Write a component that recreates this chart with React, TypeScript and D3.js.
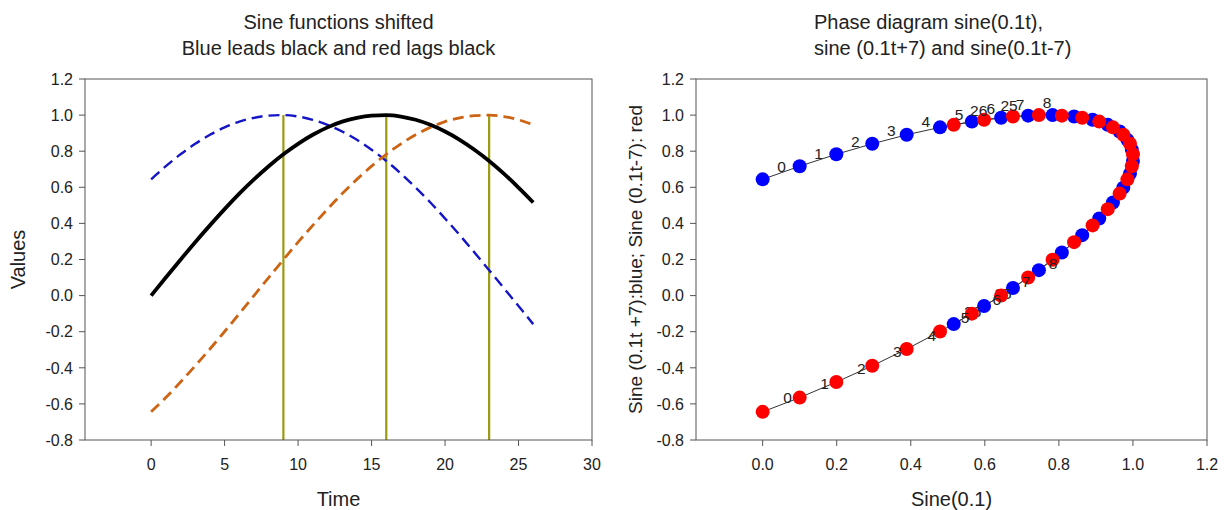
import React from "react";
import * as d3 from "d3";

// ---- data ----
const TIME = [0, 1, 2, 3, 4, 5, 6, 7, 8, 9, 10, 11, 12, 13, 14, 15, 16, 17, 18, 19, 20, 21, 22, 23, 24, 25, 26];
const SINE = [0.0, 0.1, 0.199, 0.296, 0.389, 0.479, 0.565, 0.644, 0.717, 0.783, 0.841, 0.891, 0.932, 0.964, 0.985, 0.997, 1.0, 0.992, 0.974, 0.946, 0.909, 0.863, 0.808, 0.746, 0.676, 0.598, 0.516];
const LEAD = [0.644, 0.717, 0.783, 0.841, 0.891, 0.932, 0.964, 0.985, 0.997, 1.0, 0.992, 0.974, 0.946, 0.909, 0.863, 0.808, 0.746, 0.676, 0.598, 0.516, 0.427, 0.335, 0.239, 0.141, 0.042, -0.058, -0.158];
const LAG = [-0.644, -0.565, -0.479, -0.389, -0.296, -0.199, -0.1, 0.0, 0.1, 0.199, 0.296, 0.389, 0.479, 0.565, 0.644, 0.717, 0.783, 0.841, 0.891, 0.932, 0.964, 0.985, 0.997, 1.0, 0.992, 0.974, 0.946];
const MARKERS = [9, 16, 23];
const LABELED = [0, 1, 2, 3, 4, 5, 6, 7, 8, 25, 26];
const Y_TICKS = [-0.8, -0.6, -0.4, -0.2, 0.0, 0.2, 0.4, 0.6, 0.8, 1.0, 1.2];
const TIME_TICKS = [0, 5, 10, 15, 20, 25, 30];
const PHASE_X_TICKS = [0.0, 0.2, 0.4, 0.6, 0.8, 1.0, 1.2];

const FONT = "'Liberation Sans', Arial, Helvetica, sans-serif";
const AXIS = "#555";
const TXT = "#222";

const top = 79, bottom = 440;

function YAxis({ x, y }: { x: number; y: any }) {
  return (
    <g>
      {Y_TICKS.map((t) => (
        <g key={t}>
          <line x1={x - 6} x2={x} y1={y(t)} y2={y(t)} stroke={AXIS} strokeWidth={1} />
          <text x={x - 12} y={y(t)} dy="0.36em" textAnchor="end" fontSize={16} fill={TXT} fontFamily={FONT}>
            {t.toFixed(1)}
          </text>
        </g>
      ))}
    </g>
  );
}

function XAxis({ x, ticks, fmt }: { x: any; ticks: number[]; fmt: (v: number) => string }) {
  return (
    <g>
      {ticks.map((t) => (
        <g key={t}>
          <line x1={x(t)} x2={x(t)} y1={bottom} y2={bottom + 6} stroke={AXIS} strokeWidth={1} />
          <text x={x(t)} y={464} dy="0.36em" textAnchor="middle" fontSize={16} fill={TXT} fontFamily={FONT}>
            {fmt(t)}
          </text>
        </g>
      ))}
    </g>
  );
}

export default function App() {
  // left chart
  const xL = d3.scaleLinear().domain([-4.5, 30]).range([85, 592]);
  const yL = d3.scaleLinear().domain([-0.8, 1.2]).range([bottom, top]);
  const lineOf = (vals: number[]) =>
    d3
      .line<number>()
      .x((_, i) => xL(TIME[i]))
      .y((v) => yL(v))
      .curve(d3.curveMonotoneX)(vals) as string;

  // right chart
  const xR = d3.scaleLinear().domain([-0.18, 1.2]).range([696, 1207]);
  const yR = d3.scaleLinear().domain([-0.8, 1.2]).range([bottom, top]);
  const phase = (vals: number[]) =>
    d3
      .line<number>()
      .x((_, i) => xR(SINE[i]))
      .y((v) => yR(v))(vals) as string;

  const leftCx = (85 + 592) / 2;
  const rightCx = (696 + 1207) / 2;

  return (
    <svg
      width={1225}
      height={510}
      style={{ position: "absolute", left: 0, top: 0, background: "#fff" }}
      fontFamily={FONT}
    >
      <rect width={1225} height={510} fill="#fff" />

      {/* ===== left chart ===== */}
      <text x={leftCx} y={22} dy="0.36em" textAnchor="middle" fontSize={20} fill={TXT}>
        Sine functions shifted
      </text>
      <text x={leftCx} y={48} dy="0.36em" textAnchor="middle" fontSize={20} fill={TXT}>
        Blue leads black and red lags black
      </text>

      {MARKERS.map((m) => (
        <line key={m} x1={xL(m)} x2={xL(m)} y1={yL(1.0)} y2={bottom} stroke="#9a9a10" strokeWidth={2.2} />
      ))}
      <path d={lineOf(LEAD)} fill="none" stroke="#1515c8" strokeWidth={2.4} strokeDasharray="11,6" />
      <path d={lineOf(LAG)} fill="none" stroke="#cc6414" strokeWidth={2.8} strokeDasharray="11,6" />
      <path d={lineOf(SINE)} fill="none" stroke="#000" strokeWidth={3.8} />

      <rect x={85} y={top} width={592 - 85} height={bottom - top} fill="none" stroke={AXIS} strokeWidth={1} />
      <YAxis x={85} y={yL} />
      <XAxis x={xL} ticks={TIME_TICKS} fmt={(v) => String(v)} />
      <text x={leftCx} y={499} dy="0.36em" textAnchor="middle" fontSize={20} fill={TXT}>
        Time
      </text>
      <text
        transform={`translate(18,${(top + bottom) / 2}) rotate(-90)`}
        dy="0.36em"
        textAnchor="middle"
        fontSize={20}
        fill={TXT}
      >
        Values
      </text>

      {/* ===== right chart ===== */}
      <text x={814} y={22} dy="0.36em" textAnchor="start" fontSize={20} fill={TXT}>
        Phase diagram sine(0.1t),
      </text>
      <text x={814} y={48} dy="0.36em" textAnchor="start" fontSize={20} fill={TXT}>
        sine (0.1t+7) and sine(0.1t-7)
      </text>

      <path d={phase(LEAD)} fill="none" stroke="#333" strokeWidth={1} />
      <path d={phase(LAG)} fill="none" stroke="#333" strokeWidth={1} />

      {LEAD.map((v, i) => (
        <circle key={"b" + i} cx={xR(SINE[i])} cy={yR(v)} r={7} fill="#0000ff" />
      ))}
      {LABELED.map((t) => (
        <text key={"bl" + t} x={xR(SINE[t]) + 19} y={yR(LEAD[t]) - 13} dy="0.36em" textAnchor="middle" fontSize={15.5} fill={TXT}>
          {t}
        </text>
      ))}
      {LAG.map((v, i) => (
        <circle key={"r" + i} cx={xR(SINE[i])} cy={yR(v)} r={7} fill="#ff0000" />
      ))}
      {LABELED.map((t) => (
        <text key={"rl" + t} x={xR(SINE[t]) + 25} y={yR(LAG[t]) - 14} dy="0.36em" textAnchor="middle" fontSize={15.5} fill={TXT}>
          {t}
        </text>
      ))}

      <rect x={696} y={top} width={1207 - 696} height={bottom - top} fill="none" stroke={AXIS} strokeWidth={1} />
      <YAxis x={696} y={yR} />
      <XAxis x={xR} ticks={PHASE_X_TICKS} fmt={(v) => v.toFixed(1)} />
      <text x={rightCx} y={499} dy="0.36em" textAnchor="middle" fontSize={20} fill={TXT}>
        Sine(0.1)
      </text>
      <text
        transform={`translate(635,${(top + bottom) / 2}) rotate(-90)`}
        dy="0.36em"
        textAnchor="middle"
        fontSize={19}
        fill={TXT}
      >
        Sine (0.1t +7):blue; Sine (0.1t-7): red
      </text>
    </svg>
  );
}
